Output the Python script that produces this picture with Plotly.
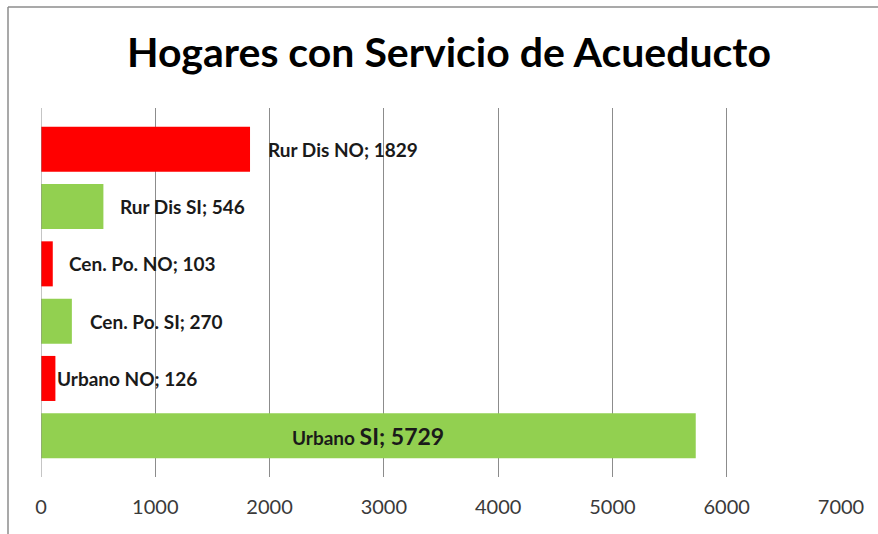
import plotly.graph_objects as go

categories = ["Rur Dis NO", "Rur Dis SI", "Cen. Po. NO", "Cen. Po. SI", "Urbano NO", "Urbano SI"]
values = [1829, 546, 103, 270, 126, 5729]
colors = ["#FF0000", "#92D050", "#FF0000", "#92D050", "#FF0000", "#92D050"]
tick_vals = [0, 1000, 2000, 3000, 4000, 5000, 6000, 7000]
title_text = "Hogares con Servicio de Acueducto"

fig = go.Figure()
fig.add_trace(go.Bar(
    y=categories, x=values, orientation="h",
    marker=dict(color=colors, line=dict(width=0)),
    width=0.786, hoverinfo="skip",
))

label_font = dict(family="Lato, Carlito, sans-serif", size=19, color="#1a1a1a")
shifts = [16, 15, 14, 16, 0]
anns = []
for cat, v, s in zip(categories[:5], values[:5], shifts):
    anns.append(dict(x=v, y=cat, xref="x", yref="y", text=f"<b>{cat}; {v}</b>",
                     showarrow=False, xanchor="left", xshift=s, font=label_font))
anns.append(dict(x=values[5] / 2, y=categories[5], xref="x", yref="y",
                 text=f"<b>{categories[5].split()[0]} <span style='font-size:23px'>{categories[5].split()[1]}; {values[5]}</span></b>",
                 showarrow=False, xanchor="center", font=label_font))

fig.update_layout(
    width=878, height=534,
    margin=dict(l=41, r=37, t=108, b=57),
    paper_bgcolor="white", plot_bgcolor="white",
    title=dict(text=f"<b>{title_text}</b>", x=0.5114, xanchor="center", y=0.902, yanchor="middle",
               font=dict(family="Lato, Carlito, sans-serif", size=41, color="#000000")),
    showlegend=False,
    annotations=anns,
    xaxis=dict(range=[0, 7000], tickvals=tick_vals, showgrid=True, gridcolor="#8c8c8c", gridwidth=1,
               zeroline=False, showline=False, ticks="outside", ticklen=12, tickcolor="rgba(0,0,0,0)",
               tickfont=dict(family="Lato, Carlito, sans-serif", size=20, color="#3a3a3a")),
    yaxis=dict(categoryorder="array", categoryarray=categories[::-1], range=[-0.72, 5.72],
               showticklabels=False, showgrid=False, zeroline=False, showline=False),
    shapes=[
        dict(type="line", xref="paper", yref="paper", x0=-0.04125, x1=1.2, y0=1.2737, y1=1.2737,
             line=dict(color="#8c8c8c", width=1.5)),
        dict(type="line", xref="paper", yref="paper", x0=-0.04125, x1=-0.04125, y0=1.2737, y1=-0.2,
             line=dict(color="#8c8c8c", width=1.5)),
        dict(type="line", xref="x", yref="paper", x0=0, x1=0, y0=0, y1=1,
             line=dict(color="#8c8c8c", width=1)),
    ],
)

fig.write_html("out.html", config={"displayModeBar": False},
               post_script="document.body.style.margin='0';document.body.style.overflow='hidden';")
